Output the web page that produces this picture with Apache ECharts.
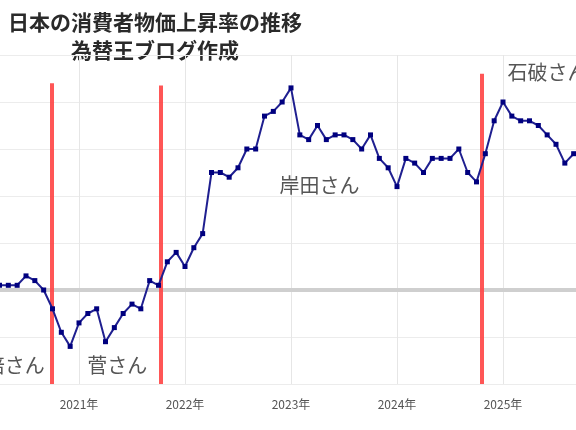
<!DOCTYPE html>
<html>
<head>
<meta charset="utf-8">
<script src="https://cdn.jsdelivr.net/npm/echarts@6/dist/echarts.min.js"></script>
<style>
  html, body { margin: 0; padding: 0; background: #fff; }
  #main { width: 576px; height: 430px; }
</style>
</head>
<body>
<div id="main"></div>
<script>
// 月次データ（消費者物価 前年同月比 %）
var months = [
  '2020-04', '2020-05', '2020-06', '2020-07', '2020-08', '2020-09', '2020-10', '2020-11', '2020-12',
  '2021-01', '2021-02', '2021-03', '2021-04', '2021-05', '2021-06', '2021-07', '2021-08', '2021-09', '2021-10', '2021-11', '2021-12',
  '2022-01', '2022-02', '2022-03', '2022-04', '2022-05', '2022-06', '2022-07', '2022-08', '2022-09', '2022-10', '2022-11', '2022-12',
  '2023-01', '2023-02', '2023-03', '2023-04', '2023-05', '2023-06', '2023-07', '2023-08', '2023-09', '2023-10', '2023-11', '2023-12',
  '2024-01', '2024-02', '2024-03', '2024-04', '2024-05', '2024-06', '2024-07', '2024-08', '2024-09', '2024-10', '2024-11', '2024-12',
  '2025-01', '2025-02', '2025-03', '2025-04', '2025-05', '2025-06', '2025-07', '2025-08', '2025-09'
];
var cpi = [
  0.1, 0.1, 0.1, 0.3, 0.2, 0.0, -0.4, -0.9, -1.2,
  -0.7, -0.5, -0.4, -1.1, -0.8, -0.5, -0.3, -0.4, 0.2, 0.1, 0.6, 0.8,
  0.5, 0.9, 1.2, 2.5, 2.5, 2.4, 2.6, 3.0, 3.0, 3.7, 3.8, 4.0,
  4.3, 3.3, 3.2, 3.5, 3.2, 3.3, 3.3, 3.2, 3.0, 3.3, 2.8, 2.6,
  2.2, 2.8, 2.7, 2.5, 2.8, 2.8, 2.8, 3.0, 2.5, 2.3, 2.9, 3.6,
  4.0, 3.7, 3.6, 3.6, 3.5, 3.3, 3.1, 2.7, 2.9
];
// 首相交代のタイミング（年の小数表記）と赤線の上端
var pmChangeX = [2020.74, 2021.77, 2024.80, 2025.712];
var pmChangeTop = [4.4, 4.35, 4.6, 2.7];
var pmNames = ['安倍さん', '菅さん', '岸田さん', '石破さん'];
var yearTicks = [2020, 2021, 2022, 2023, 2024, 2025, 2026];

var titleLines = ['日本の消費者物価上昇率の推移', '為替王ブログ作成'];

function toYear(m) {
  var p = m.split('-');
  return Number(p[0]) + (Number(p[1]) - 1) / 12;
}

var points = months.map(function (m, i) { return [toYear(m), cpi[i]]; });

var chart = echarts.init(document.getElementById('main'));

var redLines = pmChangeX.map(function (x, i) {
  return [{ coord: [x, -2] }, { coord: [x, pmChangeTop[i]] }];
});

// 名前ラベルの位置
var nameSpots = [[2020.30, -1.6], [2021.36, -1.6], [2023.27, 2.23], [2025.42, 4.64]];

var jpFont = '"Noto Sans CJK JP", sans-serif';

chart.setOption({
  animation: false,
  backgroundColor: '#fff',
  graphic: [
    {
      type: 'text', x: 155, y: 22,
      style: { text: titleLines[0], fill: '#2a2a2a', font: 'bold 21px ' + jpFont, textAlign: 'center', textVerticalAlign: 'middle' }
    },
    {
      type: 'text', x: 155, y: 50,
      style: { text: titleLines[1], fill: '#2a2a2a', font: 'bold 21px ' + jpFont, textAlign: 'center', textVerticalAlign: 'middle' }
    }
  ],
  grid: { left: -27, right: -33, top: 55, bottom: 46, outerBoundsMode: 'none', containLabel: false },
  xAxis: {
    type: 'value',
    min: yearTicks[0],
    max: yearTicks[yearTicks.length - 1],
    interval: 1,
    axisLine: { show: false },
    axisTick: { show: false },
    splitLine: { show: true, lineStyle: { color: '#e6e6e6', width: 1 } },
    axisLabel: {
      margin: 14,
      color: '#555',
      fontSize: 12,
      fontFamily: jpFont,
      formatter: function (v) { return v + '年'; }
    }
  },
  yAxis: {
    type: 'value',
    min: -2,
    max: 5,
    interval: 1,
    axisLine: { show: false },
    axisTick: { show: false },
    axisLabel: { show: false },
    splitLine: { show: true, lineStyle: { color: '#ececec', width: 1 } }
  },
  series: [
    {
      // 0%ライン
      type: 'line',
      data: [],
      silent: true,
      z: 2,
      markLine: {
        silent: true,
        symbol: ['none', 'none'],
        label: { show: false },
        lineStyle: { color: '#cfcfcf', width: 4, type: 'solid', opacity: 1 },
        data: [{ yAxis: 0 }]
      }
    },
    {
      type: 'line',
      data: points,
      symbol: 'rect',
      symbolSize: 5,
      itemStyle: { color: '#00007f' },
      lineStyle: { color: '#1f1f90', width: 2 },
      z: 5,
      markLine: {
        silent: true,
        symbol: ['none', 'none'],
        label: { show: false },
        lineStyle: { color: '#ff4444', width: 4, type: 'solid', opacity: 0.9 },
        data: redLines
      },
      markPoint: {
        silent: true,
        symbol: 'circle',
        symbolSize: 0,
        label: {
          show: true,
          position: 'inside',
          color: '#555',
          fontSize: 20,
          fontFamily: jpFont,
          formatter: function (p) { return p.name; }
        },
        data: pmNames.map(function (n, i) {
          return { name: n, coord: nameSpots[i] };
        })
      }
    }
  ]
});
</script>
</body>
</html>
